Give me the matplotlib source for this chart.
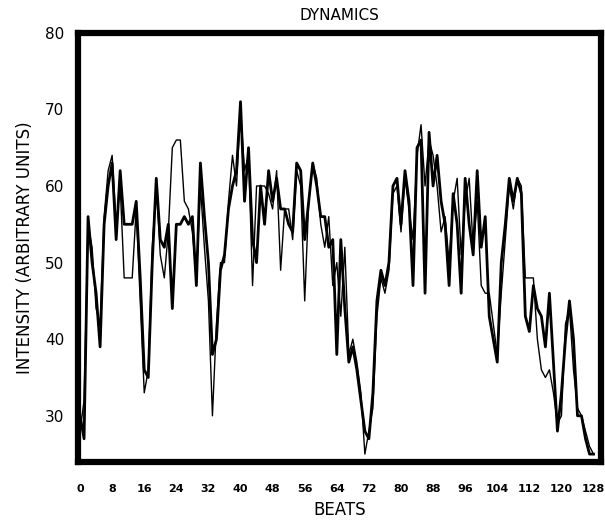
"""Dynamics of two performances, intensity per beat"""

import matplotlib

matplotlib.use("Agg")
import matplotlib.pyplot as plt
import numpy as np

beats = np.arange(0, 129)

# thick trace
intensity_a = [
    30, 27, 56, 50, 46, 39, 55, 60, 63, 53, 62, 55, 55, 55, 58, 48,
    36, 35, 50, 61, 53, 52, 55, 44, 55, 55, 56, 55, 56, 47, 63, 56,
    50, 38, 40, 49, 51, 57, 60, 62, 71, 58, 65, 53, 50, 60, 55, 62,
    58, 61, 57, 57, 55, 54, 63, 62, 53, 58, 63, 60, 56, 56, 52, 53,
    38, 53, 44, 37, 39, 36, 32, 28, 27, 33, 45, 49, 47, 50, 60, 61,
    55, 62, 58, 47, 65, 66, 46, 67, 60, 64, 58, 55, 47, 59, 55, 46,
    61, 55, 51, 62, 52, 56, 43, 40, 37, 50, 55, 61, 58, 61, 59, 43,
    41, 47, 44, 43, 39, 46, 37, 28, 33, 40, 45, 40, 30, 30, 27, 25,
    25,
]

# thin trace
intensity_b = [
    28, 32, 55, 52, 44, 42, 56, 62, 64, 55, 60, 48, 48, 48, 57, 45,
    33, 36, 52, 60, 51, 48, 54, 65, 66, 66, 58, 57, 54, 48, 60, 52,
    45, 30, 42, 50, 50, 58, 64, 60, 70, 62, 64, 47, 60, 60, 60, 59,
    57, 62, 49, 57, 57, 53, 62, 60, 45, 58, 63, 61, 55, 52, 56, 47,
    50, 43, 52, 38, 40, 37, 33, 25, 28, 31, 43, 48, 46, 49, 59, 60,
    54, 61, 57, 53, 64, 68, 60, 66, 64, 60, 54, 56, 50, 58, 61, 51,
    58, 61, 52, 58, 47, 46, 46, 42, 38, 46, 53, 60, 57, 61, 60, 48,
    48, 48, 40, 36, 35, 36, 33, 29, 30, 42, 44, 36, 31, 30, 28, 26,
    25,
]

x_ticks = list(range(0, 129, 8))
y_ticks = [30, 40, 50, 60, 70, 80]

fig = plt.figure(figsize=(6.05, 5.2), dpi=100)
ax = fig.add_axes([0.129, 0.112, 0.864, 0.825])

ax.plot(beats, intensity_b, color="black", linewidth=1.0)
ax.plot(beats, intensity_a, color="black", linewidth=2.0)

ax.set_xlim(-0.5, 129.8)
ax.set_ylim(24, 80)
ax.set_xticks(x_ticks)
ax.set_xticklabels([str(t) for t in x_ticks], fontsize=8, fontweight="bold")
ax.set_yticks(y_ticks)
ax.set_yticklabels([str(t) for t in y_ticks], fontsize=11)
ax.tick_params(axis="x", length=0, pad=16)
ax.tick_params(axis="y", length=0, pad=10)
for spine in ax.spines.values():
    spine.set_linewidth(4.5)

ax.set_title("DYNAMICS", fontsize=11, pad=9)
ax.set_xlabel("BEATS", fontsize=12, labelpad=5)
ax.set_ylabel("INTENSITY (ARBITRARY UNITS)", fontsize=12, labelpad=8)

fig.savefig("out.png", dpi=100)
